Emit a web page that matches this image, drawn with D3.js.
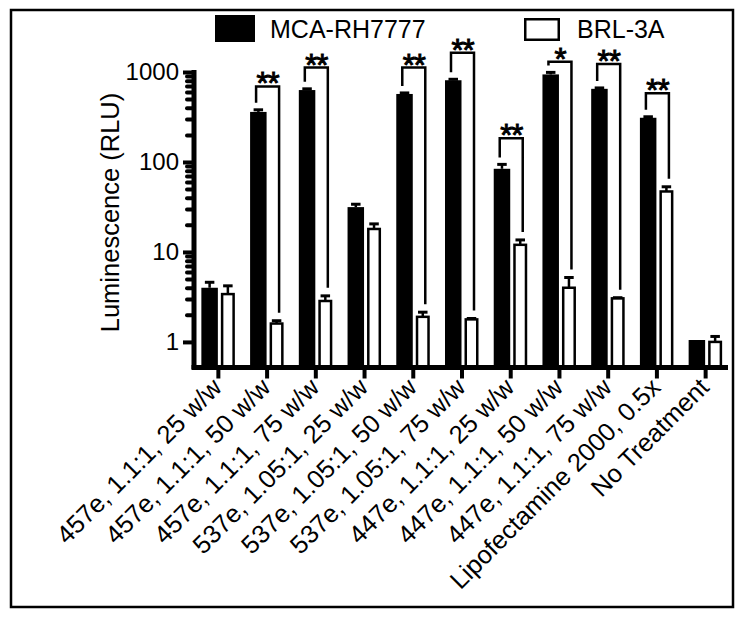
<!DOCTYPE html>
<html>
<head>
<meta charset="utf-8">
<script src="https://cdn.jsdelivr.net/npm/d3@7"></script>
<style>
  html, body { margin: 0; padding: 0; background: #fff; }
  svg { display: block; }
  text { font-family: "Liberation Sans", Arial, Helvetica, sans-serif; fill: #000; }
</style>
</head>
<body>
<svg id="chart" width="745" height="621"></svg>
<script>
// ---- data ----
const categories = [
  "457e, 1.1:1, 25 w/w", "457e, 1.1:1, 50 w/w", "457e, 1.1:1, 75 w/w",
  "537e, 1.05:1, 25 w/w", "537e, 1.05:1, 50 w/w", "537e, 1.05:1, 75 w/w",
  "447e, 1.1:1, 25 w/w", "447e, 1.1:1, 50 w/w", "447e, 1.1:1, 75 w/w",
  "Lipofectamine 2000, 0.5x", "No Treatment"
];
const seriesNames = ["MCA-RH7777", "BRL-3A"];
const mcaValues = [4.0, 360, 630, 31.5, 570, 810, 84, 940, 650, 310, 1.05];
const mcaErrors = [0.6, 20, 20, 2.4, 15, 20, 10, 50, 15, 8, 0.0];
const brlValues = [3.4, 1.6, 2.85, 18, 1.9, 1.78, 12, 4.0, 3.05, 47, 1.0];
const brlErrors = [0.8, 0.12, 0.4, 2.5, 0.24, 0.04, 1.6, 1.2, 0.05, 6, 0.15];
const sigMarks  = ["", "**", "**", "", "**", "**", "**", "*", "**", "**", ""];
const sigLevels = [null, 690, 1120, null, 1120, 1640, 183, 1300, 1230, 580, null];
const yTickValues = [1, 10, 100, 1000];
const yTickLabels = ["1", "10", "100", "1000"];

// ---- layout ----
const svg = d3.select("#chart");
const x = d3.scaleBand().domain(categories).range([194, 730]).padding(0);
const y = d3.scaleLog().domain([0.5, 1000]).range([369, 72]);
const axisY = 367.5;

// outer frame
svg.append("rect").attr("x", 11).attr("y", 10).attr("width", 722).attr("height", 597)
  .attr("fill", "none").attr("stroke", "#000").attr("stroke-width", 2.5);

const cx = d => x(d) + x.bandwidth() / 2;

// bars
const g = svg.append("g");
categories.forEach((c, i) => {
  const c0 = cx(c);
  // black bar
  const bTop = y(mcaValues[i]);
  g.append("rect").attr("x", c0 - 17).attr("width", 16.5)
    .attr("y", bTop).attr("height", axisY - bTop).attr("fill", "#000");
  // white bar
  const wTop = y(brlValues[i]);
  g.append("rect").attr("x", c0 + 3.75).attr("width", 11.5)
    .attr("y", wTop).attr("height", axisY - wTop)
    .attr("fill", "#fff").attr("stroke", "#000").attr("stroke-width", 2.5);
  // error bars
  const bE = y(mcaValues[i] + mcaErrors[i]);
  if (mcaErrors[i] > 0) {
    g.append("line").attr("x1", c0 - 8.75).attr("x2", c0 - 8.75).attr("y1", bTop).attr("y2", bE)
      .attr("stroke", "#000").attr("stroke-width", 2.5);
    g.append("line").attr("x1", c0 - 13.5).attr("x2", c0 - 4).attr("y1", bE).attr("y2", bE)
      .attr("stroke", "#000").attr("stroke-width", 3);
  }
  const wE = y(brlValues[i] + brlErrors[i]);
  g.append("line").attr("x1", c0 + 9.5).attr("x2", c0 + 9.5).attr("y1", wTop).attr("y2", wE)
    .attr("stroke", "#000").attr("stroke-width", 2.5);
  g.append("line").attr("x1", c0 + 4.75).attr("x2", c0 + 14.25).attr("y1", wE).attr("y2", wE)
    .attr("stroke", "#000").attr("stroke-width", 3);

  // significance bracket
  if (sigLevels[i] !== null) {
    const ly = y(sigLevels[i]);
    const xl = c0 - 11, xr = c0 + 12;
    const lb = Math.min(bTop, bE) - 7;
    const rb = Math.min(wTop, wE) - 8;
    g.append("path")
      .attr("d", `M${xl},${lb}V${ly}H${xr}V${rb}`)
      .attr("fill", "none").attr("stroke", "#000").attr("stroke-width", 2.5);
    g.append("text").attr("x", (xl + xr) / 2).attr("y", ly + 8)
      .attr("text-anchor", "middle").attr("font-size", 31)
      .attr("font-family", "'DejaVu Sans', sans-serif")
      .attr("stroke", "#000").attr("stroke-width", 1)
      .attr("letter-spacing", -1)
      .text(sigMarks[i]);
  }
});

// y axis
const yAxis = d3.axisLeft(y).tickValues(yTickValues)
  .tickFormat((d, i) => yTickLabels[i]).tickSize(11).tickSizeOuter(0).tickPadding(4);
const ya = svg.append("g").attr("transform", "translate(194,0)").call(yAxis);
ya.select(".domain").attr("stroke-width", 5).attr("d", "M0,369V70");
ya.selectAll(".tick line").attr("stroke-width", 4);
ya.selectAll(".tick text").attr("font-size", 24).attr("font-family", "Liberation Sans, Arial, sans-serif");

// minor ticks
const minors = [];
[1, 10, 100].forEach(dec => { for (let k = 2; k <= 9; k++) minors.push(dec * k); });
const yMinor = d3.axisLeft(y).tickValues(minors).tickFormat("").tickSize(7).tickSizeOuter(0);
const ym = svg.append("g").attr("transform", "translate(194,0)").call(yMinor);
ym.select(".domain").remove();
ym.selectAll(".tick line").attr("stroke-width", 4).attr("stroke-linecap", "round");

// x axis
const xAxis = d3.axisBottom(x).tickSize(11).tickSizeOuter(0).tickFormat("");
const xa = svg.append("g").attr("transform", `translate(0,${axisY})`).call(xAxis);
xa.select(".domain").attr("stroke-width", 5).attr("d", "M191.5,0H728");
xa.selectAll(".tick line").attr("stroke-width", 4);

// x labels
svg.append("g").selectAll("text").data(categories).join("text")
  .attr("transform", d => `translate(${cx(d) + 5},389) rotate(-45)`)
  .attr("text-anchor", "end").attr("font-size", 25.5)
  .text(d => d);

// y title
svg.append("text").attr("transform", "translate(119,212.5) rotate(-90)")
  .attr("text-anchor", "middle").attr("font-size", 25.5)
  .text("Luminescence (RLU)");

// legend
svg.append("rect").attr("x", 215).attr("y", 15).attr("width", 40).attr("height", 27).attr("fill", "#000");
svg.append("text").attr("x", 270).attr("y", 38).attr("font-size", 25).text(seriesNames[0]);
svg.append("rect").attr("x", 525.25).attr("y", 19.25).attr("width", 33.5).attr("height", 20.5)
  .attr("fill", "#fff").attr("stroke", "#000").attr("stroke-width", 2.5);
svg.append("text").attr("x", 577).attr("y", 38).attr("font-size", 25).text(seriesNames[1]);
</script>
</body>
</html>
